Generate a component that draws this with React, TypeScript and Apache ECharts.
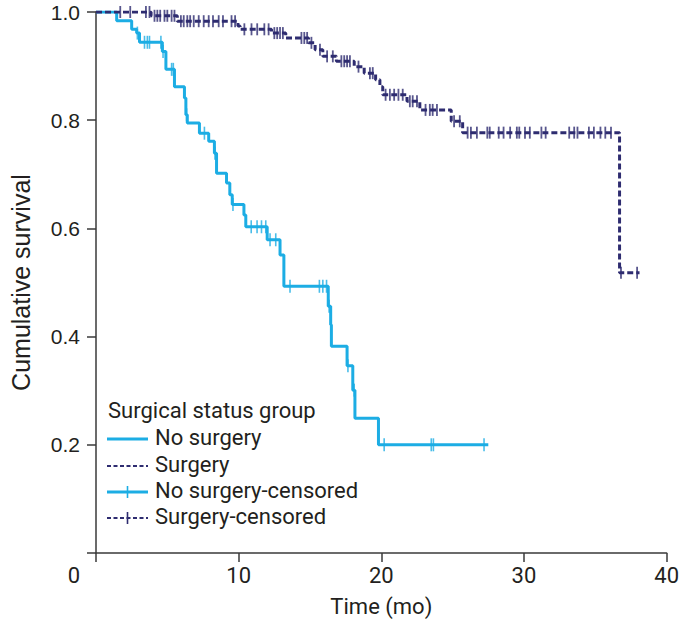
import React, { useEffect, useRef } from "react";
import * as echarts from "echarts";

// ---- Data ----
const noSurgeryTimes = [0, 1.45, 2.5, 2.85, 3.05, 4.65, 4.9, 5.5, 6.2, 6.3, 6.4, 7.25, 7.9, 8.3, 8.45, 9.15, 9.38, 9.55, 10.37, 10.5, 12.0, 12.9, 13.17, 16.28, 16.45, 16.5, 17.6, 18.0, 18.15, 19.8, 27.5];
const noSurgerySurv = [1.0, 0.984, 0.968, 0.961, 0.944, 0.927, 0.894, 0.862, 0.841, 0.81, 0.795, 0.776, 0.761, 0.739, 0.702, 0.684, 0.662, 0.644, 0.625, 0.603, 0.579, 0.551, 0.493, 0.456, 0.422, 0.382, 0.346, 0.301, 0.249, 0.2, 0.2];
const noSurgeryCensored = [2.9, 3.4, 3.6, 3.75, 4.55, 4.7, 5.3, 5.42, 6.35, 7.6, 8.34, 9.6, 10.88, 11.29, 11.6, 11.9, 12.2, 12.6, 13.6, 15.66, 15.9, 16.16, 16.34, 17.66, 18.1, 20.2, 23.5, 23.65, 27.2];

const surgeryTimes = [0, 3.86, 5.7, 9.95, 10.1, 12.3, 13.3, 14.9, 15.36, 15.9, 16.85, 18.1, 18.8, 19.6, 19.9, 20.1, 21.8, 22.7, 24.9, 25.7, 36.7, 38.1];
const surgerySurv = [1.0, 0.993, 0.983, 0.974, 0.968, 0.961, 0.952, 0.943, 0.93, 0.918, 0.909, 0.899, 0.887, 0.875, 0.862, 0.847, 0.835, 0.819, 0.798, 0.777, 0.518, 0.518];
const surgeryCensored = [1.7, 2.4, 3.5, 3.75, 4.1, 4.3, 4.5, 4.8, 5.0, 5.3, 5.5, 5.95, 6.15, 6.4, 6.6, 6.85, 7.2, 7.55, 7.9, 8.2, 8.6, 8.9, 9.5, 9.75, 10.4, 10.9, 11.3, 11.8, 12.1, 12.5, 12.7, 12.9, 13.1, 14.4, 14.6, 14.8, 15.1, 15.7, 16.2, 16.6, 17.2, 17.4, 17.6, 17.8, 18.4, 19.2, 19.4, 20.3, 20.6, 20.9, 21.2, 21.5, 22.0, 22.2, 22.5, 23.1, 23.4, 23.6, 23.9, 25.1, 25.5, 26.05, 26.28, 26.7, 27.43, 27.6, 28.23, 28.57, 29.03, 29.5, 29.67, 30.07, 30.41, 31.22, 31.52, 33.17, 33.52, 33.75, 34.55, 34.9, 35.36, 35.7, 36.1, 36.8, 37.93];

const xTickLabels = [0, 10, 20, 30, 40];
const yTickLabels = [0.2, 0.4, 0.6, 0.8, 1.0];
const legendTitle = "Surgical status group";
const seriesNames = ["No surgery", "Surgery", "No surgery-censored", "Surgery-censored"];

const BLUE = "#1CADE4";
const NAVY = "#2E2C70";
const INK = "#231F20";
const AXIS = "#3a3a3a";
const LEGEND_FONT = "Roboto";

function survAt(times: number[], surv: number[], t: number): number {
  let s = surv[0];
  for (let i = 0; i < times.length; i++) {
    if (times[i] <= t) s = surv[i];
  }
  return s;
}

export default function App() {
  const ref = useRef<HTMLDivElement>(null);

  useEffect(() => {
    document.body.style.margin = "0";
    if (!ref.current) return;
    const chart = echarts.init(ref.current, undefined, { renderer: "svg" });

    const legendX = 107;
    const rows = [439, 466, 492, 518];
    const sampleW = 41;
    const legendGraphics: any[] = [
      {
        type: "text",
        left: 108,
        top: 412 - 13,
        style: { text: legendTitle, fill: INK, font: `22px ${LEGEND_FONT}` },
      },
    ];
    seriesNames.forEach((name, i) => {
      const y = rows[i];
      const isBlue = i % 2 === 0;
      legendGraphics.push({
        type: "line",
        shape: { x1: legendX, y1: y, x2: legendX + sampleW, y2: y },
        style: {
          stroke: isBlue ? BLUE : NAVY,
          lineWidth: isBlue ? 3 : 2.2,
          lineDash: isBlue ? null : [4, 2.5],
        },
      });
      if (i >= 2) {
        legendGraphics.push({
          type: "line",
          shape: { x1: legendX + sampleW / 2, y1: y - 6, x2: legendX + sampleW / 2, y2: y + 6 },
          style: { stroke: isBlue ? BLUE : NAVY, lineWidth: 1.6 },
        });
      }
      legendGraphics.push({
        type: "text",
        left: 155,
        top: y - 13,
        style: { text: name, fill: INK, font: `22px ${LEGEND_FONT}` },
      });
    });

    chart.setOption({
      animation: false,
      grid: { left: 89, right: 13, top: 12, bottom: 77, containLabel: false },
      xAxis: {
        type: "value",
        min: xTickLabels[0],
        max: xTickLabels[xTickLabels.length - 1],
        interval: 10,
        name: "Time (mo)",
        nameLocation: "middle",
        nameGap: 42,
        nameTextStyle: { fontFamily: LEGEND_FONT, fontSize: 22, color: INK },
        axisLine: { lineStyle: { color: AXIS, width: 1.5 } },
        axisTick: { show: true, inside: false, length: 9, lineStyle: { color: AXIS, width: 1.5 } },
        axisLabel: {
          margin: 11,
          fontFamily: LEGEND_FONT,
          fontSize: 22,
          color: INK,
          formatter: (v: number) => (v === 0 ? "{z|0}" : String(v)),
          rich: { z: { padding: [0, 44, 0, 0], fontFamily: LEGEND_FONT, fontSize: 22, color: INK } },
        },
        splitLine: { show: false },
      },
      yAxis: {
        type: "value",
        min: 0,
        max: yTickLabels[yTickLabels.length - 1],
        interval: 0.2,
        name: "Cumulative survival",
        nameLocation: "middle",
        nameGap: 63,
        nameTextStyle: { fontFamily: "Liberation Sans", fontSize: 25, color: INK },
        axisLine: { show: true, lineStyle: { color: AXIS, width: 1.5 } },
        axisTick: { show: true, inside: false, length: 9, lineStyle: { color: AXIS, width: 1.5 } },
        axisLabel: {
          margin: 16,
          fontFamily: "Liberation Sans",
          fontSize: 21,
          color: INK,
          formatter: (v: number) => (v === 0 ? "" : v.toFixed(1)),
        },
        splitLine: { show: false },
      },
      graphic: legendGraphics,
      series: [
        {
          name: seriesNames[0],
          type: "line",
          step: "end",
          symbol: "none",
          data: noSurgeryTimes.map((t, i) => [t, noSurgerySurv[i]]),
          lineStyle: { color: BLUE, width: 3 },
          z: 2,
        },
        {
          name: seriesNames[1],
          type: "line",
          step: "end",
          symbol: "none",
          data: surgeryTimes.map((t, i) => [t, surgerySurv[i]]),
          lineStyle: { color: NAVY, width: 3, type: [6, 3] },
          z: 3,
        },
        {
          name: seriesNames[2],
          type: "scatter",
          symbol: "rect",
          symbolSize: [1.6, 13],
          data: noSurgeryCensored.map((t) => [t, survAt(noSurgeryTimes, noSurgerySurv, t)]),
          itemStyle: { color: BLUE },
          z: 4,
        },
        {
          name: seriesNames[3],
          type: "scatter",
          symbol: "rect",
          symbolSize: [1.8, 12],
          data: surgeryCensored.map((t) => [t, survAt(surgeryTimes, surgerySurv, t)]),
          itemStyle: { color: NAVY },
          z: 5,
        },
      ],
    });

    return () => chart.dispose();
  }, []);

  return <div ref={ref} style={{ width: 682, height: 630 }} />;
}
